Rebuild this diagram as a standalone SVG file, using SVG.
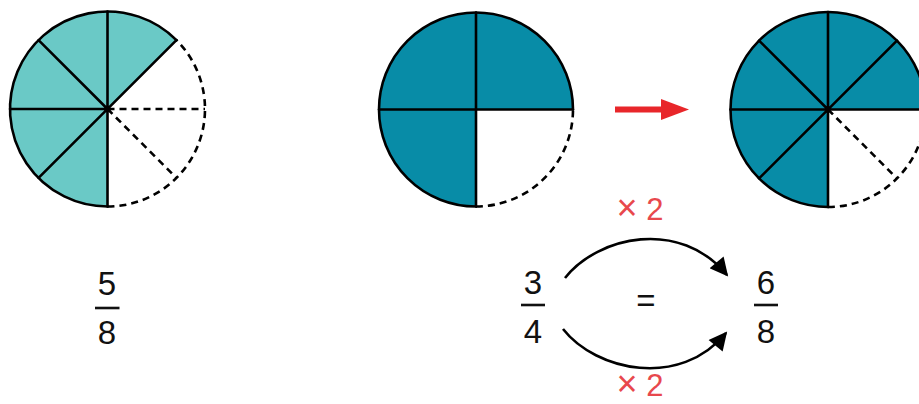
<svg xmlns="http://www.w3.org/2000/svg" width="919" height="404" viewBox="0 0 919 404">
<style>
.light{fill:#6ac9c6;stroke:none}
.dark{fill:#088ca7;stroke:none}
.solid{fill:none;stroke:#000;stroke-width:2.6;stroke-linecap:round;stroke-linejoin:round}
.dash{fill:none;stroke:#000;stroke-width:2.6;stroke-dasharray:7 5}
.num{font-family:"Liberation Sans",Arial,sans-serif;font-size:33px;fill:#111;text-anchor:middle}
.red{font-family:"Liberation Sans",Arial,sans-serif;font-size:31px;fill:#e8484d;text-anchor:middle}
.times{font-size:36px}
.bar{stroke:#111;stroke-width:2.6}
.curve{fill:none;stroke:#000;stroke-width:2.6;marker-end:url(#ah)}
</style>
<defs>
<marker id="ah" viewBox="0 0 10 10" refX="9" refY="5" markerWidth="8" markerHeight="7" markerUnits="strokeWidth" orient="auto">
<path d="M0,0 L10,5 L0,10 Z" fill="#000"/>
</marker>
</defs>
<rect width="919" height="404" fill="#fff"/>

<g id="circle-five-eighths">
<path class="light" d="M107.5,109 L176.44,40.06 A97.5,97.5 0 1 0 107.5,206.5 Z"/>
<path class="solid" d="M176.44,40.06 A97.5,97.5 0 1 0 107.5,206.5"/>
<path class="solid" d="M176.44,40.06 L38.56,177.94 M107.5,11.5 L107.5,206.5 M38.56,40.06 L107.5,109 M10,109 L107.5,109"/>
<path class="dash" d="M107.5,206.5 A97.5,97.5 0 0 0 176.44,40.06 M107.5,109 L205,109 M107.5,109 L176.44,177.94"/>
<circle cx="107.5" cy="109" r="3" fill="#000"/>
</g>

<g id="circle-three-quarters">
<path class="dark" d="M476,109.5 L573,109.5 A97,97 0 1 0 476,206.5 Z"/>
<path class="solid" d="M573,109.5 A97,97 0 1 0 476,206.5"/>
<path class="solid" d="M476,12.5 L476,206.5 M379,109.5 L573,109.5"/>
<path class="dash" d="M476,206.5 A97,97 0 0 0 573,109.5"/>
</g>

<g id="red-arrow">
<line x1="615" y1="109.5" x2="663" y2="109.5" stroke="#e8262a" stroke-width="6"/>
<path d="M661,99 L689,109.5 L661,120 Z" fill="#e8262a"/>
</g>

<g id="circle-six-eighths">
<path class="dark" d="M828,109.5 L925.5,109.5 A97.5,97.5 0 1 0 828,207 Z"/>
<path class="solid" d="M925.5,109.5 A97.5,97.5 0 1 0 828,207"/>
<path class="solid" d="M828,12 L828,207 M730.5,109.5 L925.5,109.5 M896.94,40.56 L759.06,178.44 M759.06,40.56 L828,109.5"/>
<path class="dash" d="M828,207 A97.5,97.5 0 0 0 925.5,109.5 M828,109.5 L896.94,178.44"/>
<circle cx="828" cy="109.5" r="3" fill="#000"/>
</g>

<g id="fraction-5-8">
<text class="num" x="107" y="295">5</text>
<line class="bar" x1="95" y1="308" x2="119.5" y2="308"/>
<text class="num" x="107" y="343.5">8</text>
</g>

<g id="fraction-3-4">
<text class="num" x="533" y="293.5">3</text>
<line class="bar" x1="521" y1="305" x2="545" y2="305"/>
<text class="num" x="533" y="343">4</text>
</g>

<g id="equals">
<text class="num" x="646" y="311.5">=</text>
</g>

<g id="fraction-6-8">
<text class="num" x="766" y="293.5">6</text>
<line class="bar" x1="754" y1="305" x2="778" y2="305"/>
<text class="num" x="766" y="343">8</text>
</g>

<g id="connectors">
<path class="curve" d="M565,278 C598,236 680,218 727,275"/>
<path class="curve" d="M563,329 C596,371 680,389 726,333"/>
</g>

<g id="labels">
<text class="red" x="640" y="220"><tspan class="times">×</tspan> 2</text>
<text class="red" x="640" y="396"><tspan class="times">×</tspan> 2</text>
</g>
</svg>
